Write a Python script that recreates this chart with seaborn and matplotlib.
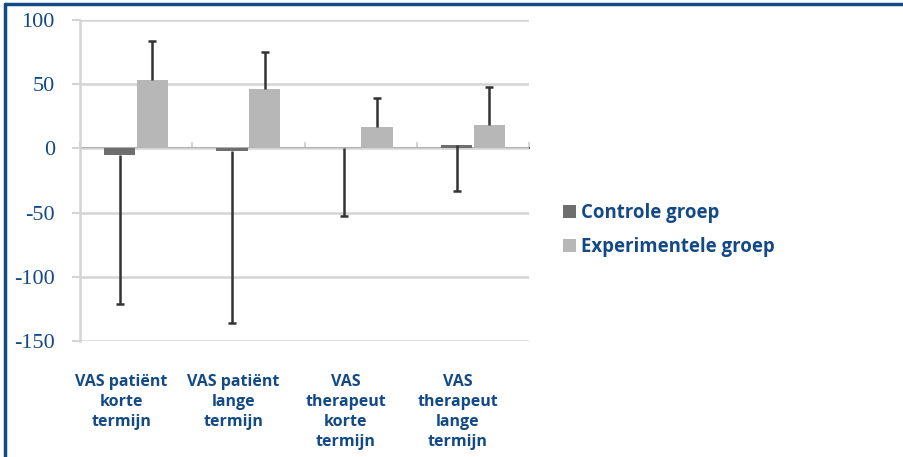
import matplotlib
matplotlib.use("Agg")
import matplotlib.pyplot as plt
import seaborn as sns
import pandas as pd
import numpy as np
from matplotlib.lines import Line2D
from matplotlib.patches import Patch
from matplotlib.transforms import ScaledTranslation

categories = ["VAS patiënt\nkorte\ntermijn", "VAS patiënt\nlange\ntermijn",
              "VAS\ntherapeut\nkorte\ntermijn", "VAS\ntherapeut\nlange\ntermijn"]
groups = ["Controle groep", "Experimentele groep"]
controle = [-5, -2, 0, 3]
controle_sd = [116, 134, 53, 36]
experimenteel = [53, 46, 17, 18]
experimenteel_sd = [31, 29, 22, 30]
yticks = [-150, -100, -50, 0, 50, 100]

blue = "#134a86"
grid_c = "#d4d4d4"
colors = ["#6e6e6e", "#b7b7b7"]

df = pd.DataFrame({
    "categorie": categories * 2,
    "groep": [groups[0]] * 4 + [groups[1]] * 4,
    "waarde": controle + experimenteel,
})

sns.set_theme(style="white")
plt.rcParams["font.family"] = ["Open Sans", "DejaVu Sans"]

fig = plt.figure(figsize=(9.04, 4.57), dpi=100)
ax = fig.add_axes([80 / 904, 116 / 457, 449 / 904, 321 / 457])

sns.barplot(data=df, x="categorie", y="waarde", hue="groep", palette=colors,
            width=0.58, gap=0.04, errorbar=None, legend=False, ax=ax,
            saturation=1, linewidth=0)

# one-sided error bars: controle downwards, experimenteel upwards
patches = sorted(ax.patches, key=lambda p: p.get_x())
ctrl_x = [p.get_x() + p.get_width() / 2 for p in patches[0::2]]
exp_x = [p.get_x() + p.get_width() / 2 for p in patches[1::2]]
ekw = dict(fmt="none", ecolor="#333333", elinewidth=1.8, capsize=3, capthick=1.8, zorder=3)
eb_c = ax.errorbar(ctrl_x, controle, yerr=[controle_sd, [0] * 4], **ekw)
eb_e = ax.errorbar(exp_x, experimenteel, yerr=[[0] * 4, experimenteel_sd], **ekw)
eb_c[1][1].set_visible(False)
eb_e[1][0].set_visible(False)

ax.set_xlim(-0.5, 3.5)
ax.set_ylim(-150, 100)
ax.set_yticks(yticks)
ax.set_yticklabels([str(v) for v in yticks], family="Liberation Serif",
                   fontsize=16, color=blue)
ax.yaxis.grid(True, color=grid_c, linewidth=1.8)
ax.set_axisbelow(True)
ax.tick_params(axis="y", length=5.8, width=1.5, color=grid_c, pad=12.3, left=True)
ax.tick_params(axis="x", length=0, pad=24)
shift = ScaledTranslation(-15 / 100, 0, fig.dpi_scale_trans)
for lab in ax.get_xticklabels():
    lab.set_fontweight("bold")
    lab.set_fontsize(11.5)
    lab.set_color(blue)
    lab.set_linespacing(1.33)
    lab.set_verticalalignment("top")
    lab.set_transform(lab.get_transform() + shift)
ax.set_xlabel("")
ax.set_ylabel("")
for s in ["top", "right", "bottom"]:
    ax.spines[s].set_visible(False)
ax.spines["left"].set_color(grid_c)
ax.spines["left"].set_linewidth(1.8)

# category axis line at zero with boundary ticks
sec = ax.secondary_xaxis(0.6)
sec.set_xticks(np.arange(-0.5, 4, 1.0))
sec.set_xticklabels([])
sec.tick_params(length=4.5, width=1.5, color=grid_c, direction="out")
sec.spines["bottom"].set_color(grid_c)
sec.spines["bottom"].set_linewidth(1.8)

handles = [Patch(facecolor=c, edgecolor="none") for c in colors]
leg = fig.legend(handles, groups, loc="center left", bbox_to_anchor=(546 / 904, 1 - 230 / 457),
                 frameon=False, handlelength=0.7, handleheight=0.7, handletextpad=0.3,
                 labelspacing=0.75, prop={"family": "Open Sans", "weight": "bold", "size": 13.4})
for t in leg.get_texts():
    t.set_color(blue)

# outer frame
fig.add_artist(Line2D([5 / 904, 1], [1 - 4 / 457, 1 - 4 / 457], color=blue, linewidth=2.5,
                      transform=fig.transFigure))
fig.add_artist(Line2D([5.5 / 904, 5.5 / 904], [0, 1 - 4 / 457], color=blue, linewidth=2.5,
                      transform=fig.transFigure))

fig.savefig("out.png", dpi=100)
